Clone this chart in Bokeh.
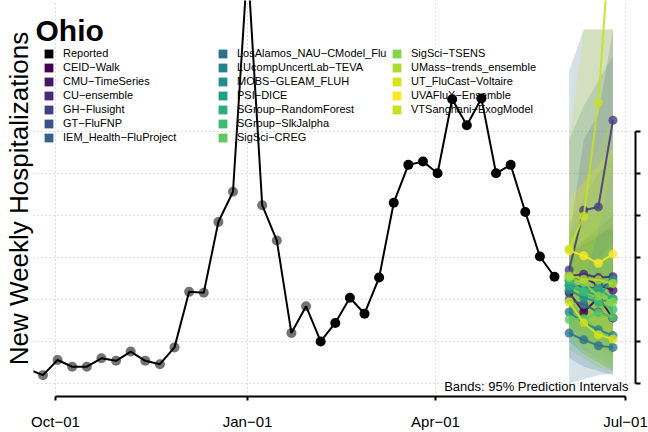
import pandas as pd
from bokeh.plotting import figure
from bokeh.models import Range1d, FixedTicker, Legend, LegendItem, Label, LinearAxis
from bokeh.embed import file_html
from bokeh.resources import INLINE

ORIGIN = pd.Timestamp("2021-10-01")

# ---------------- data ----------------
report_dates = [
    "2021-09-18", "2021-09-25", "2021-10-02", "2021-10-09", "2021-10-16", "2021-10-23",
    "2021-10-30", "2021-11-06", "2021-11-13", "2021-11-20", "2021-11-27", "2021-12-04",
    "2021-12-11", "2021-12-18", "2021-12-25", "2022-01-01", "2022-01-08", "2022-01-15",
    "2022-01-22", "2022-01-29", "2022-02-05", "2022-02-12", "2022-02-19", "2022-02-26",
    "2022-03-05", "2022-03-12", "2022-03-19", "2022-03-26", "2022-04-02", "2022-04-09",
    "2022-04-16", "2022-04-23", "2022-04-30", "2022-05-07", "2022-05-14", "2022-05-21",
    "2022-05-28",
]
reported = [17, 10, 28, 20, 20, 30, 27, 38, 27, 23, 43, 109, 108, 192, 228, 500, 212, 170,
            60, 92, 50, 72, 102, 83, 126, 215, 260, 264, 250, 338, 307, 339, 250, 260, 204,
            151, 127]
gray_until = "2022-01-29"

forecast_dates = ["2022-06-04", "2022-06-11", "2022-06-18", "2022-06-25"]

models = [
    "CEID−Walk", "CMU−TimeSeries", "CU−ensemble", "GH−Flusight", "GT−FluFNP",
    "IEM_Health−FluProject", "LosAlamos_NAU−CModel_Flu", "LUcompUncertLab−TEVA",
    "MOBS−GLEAM_FLUH", "PSI−DICE", "SGroup−RandomForest", "SGroup−SlkJalpha",
    "SigSci−CREG", "SigSci−TSENS", "UMass−trends_ensemble", "UT_FluCast−Voltaire",
    "UVAFluX−Ensemble", "VTSanghani−ExogModel",
]
model_colors = [
    "#440154", "#481769", "#472a7a", "#433e85", "#3b528b", "#33638d", "#2c728e",
    "#26828e", "#21918c", "#1fa088", "#28ae80", "#3fbc73", "#5ec962", "#84d44b",
    "#addc30", "#d8e219", "#fde725", "#c8e020",
]
fc_median = [
    [108, 85, 102, 78], [123, 126, 117, 111], [128, 130, 126, 127], [135, 206, 210, 313],
    [117, 115, 113, 121], [100, 94, 85, 78], [60, 52, 45, 43], [85, 72, 64, 57],
    [111, 102, 97, 101], [121, 111, 104, 123], [116, 109, 114, 100], [123, 109, 97, 88],
    [76, 77, 84, 79], [126, 120, 104, 97], [128, 124, 123, 119], [97, 72, 58, 53],
    [158, 152, 143, 154], [160, 199, 334, 580],
]
fc_lower = [
    [70, 50, 45, 35], [95, 85, 75, 65], [100, 92, 85, 80], [105, 140, 130, 190],
    [85, 75, 65, 55], [30, 20, 15, 10], [0, 5, 10, 12], [50, 35, 25, 15],
    [75, 60, 50, 45], [60, 40, 30, 20], [85, 75, 65, 55], [70, 50, 40, 30],
    [40, 30, 20, 15], [80, 60, 45, 35], [60, 45, 30, 20], [60, 35, 20, 15],
    [100, 80, 65, 55], [110, 120, 180, 260],
]
fc_upper = [
    [150, 170, 185, 200], [150, 165, 175, 185], [158, 170, 178, 185], [170, 290, 320, 421],
    [155, 165, 175, 190], [372, 421, 421, 421], [290, 330, 360, 390], [125, 125, 135, 145],
    [155, 165, 175, 185], [190, 220, 250, 270], [150, 160, 170, 180], [180, 190, 200, 210],
    [120, 135, 150, 165], [175, 185, 200, 220], [200, 240, 280, 320], [140, 125, 115, 110],
    [220, 240, 260, 280], [290, 421, 421, 421],
]

x_tick_dates = ["2021-10-01", "2022-01-01", "2022-04-01", "2022-07-01"]
x_tick_labels = ["Oct−01", "Jan−01", "Apr−01", "Jul−01"]
y_ticks = [0, 50, 100, 150, 200, 250, 300]


def days(ds):
    return [(pd.Timestamp(d) - ORIGIN).days for d in ds]


rx = days(report_dates)
fx = days(forecast_dates)
xt = days(x_tick_dates)
gray_cut = (pd.Timestamp(gray_until) - ORIGIN).days

# ---------------- figure ----------------
p = figure(width=648, height=432, output_backend="svg", toolbar_location=None,
           x_range=Range1d(-10.54, 277.79), y_range=Range1d(-15.4, 455.4),
           x_axis_location="below", y_axis_location="right",
           min_border_left=33, min_border_right=13, min_border_top=0, min_border_bottom=35)
p.outline_line_color = None
p.background_fill_color = "white"

xa = p.xaxis[0]
xa.ticker = FixedTicker(ticks=xt)
xa.major_label_overrides = {t: l for t, l in zip(xt, x_tick_labels)}
xa.bounds = (xt[0], xt[-1])
xa.axis_line_width = 2
xa.major_tick_line_width = 2
xa.major_tick_out = 4
xa.major_tick_in = 0
xa.minor_tick_out = 0
xa.minor_tick_in = 0
xa.major_label_standoff = 12
xa.major_label_text_font = "Liberation Sans"
xa.major_label_text_font_size = "15px"
xa.major_label_text_color = "black"

ya = p.yaxis[0]
ya.ticker = FixedTicker(ticks=y_ticks)
ya.major_label_overrides = {t: "" for t in y_ticks}
ya.bounds = (y_ticks[0], y_ticks[-1])
ya.axis_line_width = 2
ya.major_tick_line_width = 2
ya.major_tick_out = 5
ya.major_tick_in = 0
ya.minor_tick_out = 0
ya.minor_tick_in = 0
ya.major_label_standoff = 0

# left axis carrying only the title of the value axis
la = LinearAxis(ticker=FixedTicker(ticks=[]), axis_line_color=None,
                major_tick_out=0, major_tick_in=0, minor_tick_out=0, minor_tick_in=0,
                major_label_standoff=0, bounds=(0, 406.8),
                axis_label="New Weekly Hospitalizations", axis_label_standoff=0,
                axis_label_text_font="Liberation Sans", axis_label_text_font_size="26px",
                axis_label_text_font_style="normal", axis_label_text_color="black")
p.add_layout(la, "left")

for g, tk in ((p.xgrid[0], xt), (p.ygrid[0], y_ticks)):
    g.ticker = FixedTicker(ticks=tk)
    g.grid_line_color = "#bdbdbd"
    g.grid_line_dash = "1 3"
    g.grid_line_width = 1

# prediction bands
for c, lo, hi in zip(model_colors, fc_lower, fc_upper):
    p.varea(x=fx, y1=lo, y2=hi, fill_color=c, fill_alpha=0.2)

# reported series
gx = [x for x in rx if x <= gray_cut]
gy = [v for x, v in zip(rx, reported) if x <= gray_cut]
bx = [x for x in rx if x > gray_cut]
by = [v for x, v in zip(rx, reported) if x > gray_cut]
p.scatter(gx, gy, size=10, fill_color="black", fill_alpha=0.55, line_color=None)
p.scatter(bx, by, size=10, fill_color="black", line_color=None)
p.line(rx, reported, line_color="black", line_width=2)

# forecasts
for c, med in zip(model_colors, fc_median):
    p.line(fx, med, line_color=c, line_width=2, line_alpha=0.9)
    p.scatter(fx, med, size=9, fill_color=c, fill_alpha=0.8, line_color=None)

# legend swatches (hidden renderers that carry the colours)
swatch = {"Reported": p.quad(left=rx[:-1], right=rx[1:], bottom=reported[:-1],
                             top=reported[:-1], fill_color="black", line_color=None,
                             visible=False)}
for n, c, lo, hi in zip(models, model_colors, fc_lower, fc_upper):
    swatch[n] = p.quad(left=fx[:-1], right=fx[1:], bottom=lo[:-1], top=hi[:-1],
                       fill_color=c, line_color=None, visible=False)

all_names = ["Reported"] + models
cols = [all_names[0:7], all_names[7:14], all_names[14:19]]
col_x = [10, 184, 358]
for names, vx in zip(cols, col_x):
    leg = Legend(items=[LegendItem(label=n, renderers=[swatch[n]]) for n in names],
                 location=(vx, 252 + (7 - len(names)) * 14), orientation="vertical",
                 glyph_width=11, glyph_height=11, label_standoff=9, label_height=14,
                 spacing=0, padding=0, margin=0, border_line_color=None,
                 background_fill_alpha=0, label_text_font="Liberation Sans",
                 label_text_font_size="11px", label_text_color="black",
                 click_policy="none")
    p.add_layout(leg)

p.add_layout(Label(x=-9.58, y=419.2, text="Ohio",
                   text_font="Liberation Sans", text_font_style="bold", text_font_size="30px",
                   text_align="left", text_baseline="alphabetic", text_color="black"))
p.add_layout(Label(x=274.4, y=-3.2,
                   text="Bands: 95% Prediction Intervals", text_font="Liberation Sans",
                   text_font_size="13px", text_align="right", text_baseline="alphabetic",
                   text_color="black"))

open("out.html", "w").write(file_html(p, INLINE))
